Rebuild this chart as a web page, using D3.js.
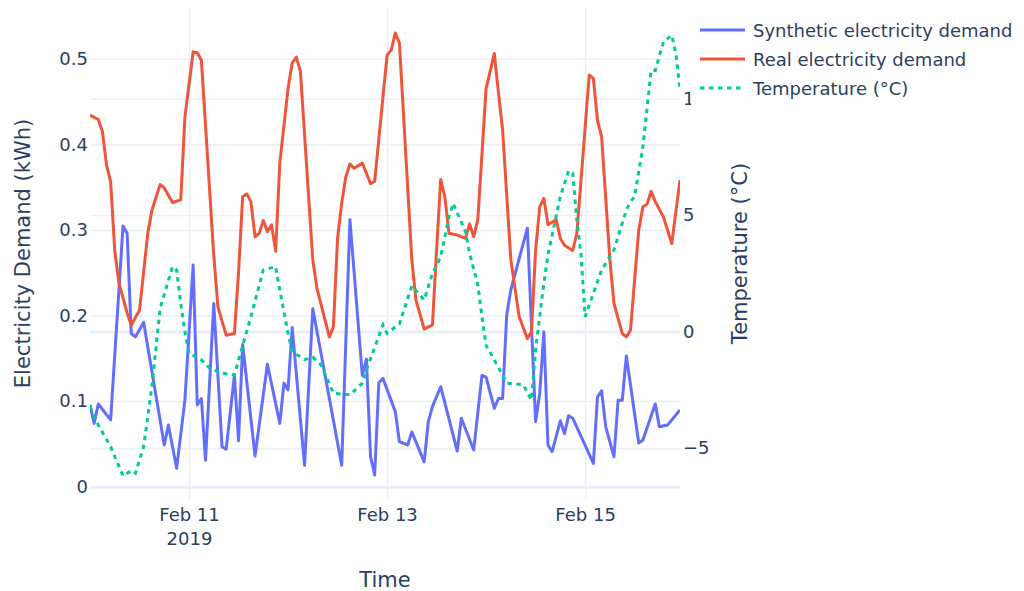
<!DOCTYPE html>
<html>
<head>
<meta charset="utf-8">
<script src="https://cdn.jsdelivr.net/npm/d3@7"></script>
<style>
  body { margin: 0; background: #fff; }
  svg { display: block; font-family: "DejaVu Sans", Verdana, sans-serif; }
</style>
</head>
<body>
<div id="chart"></div>
<script>
// hours counted from 10 Feb 2019 00:00
const startTime = Date.UTC(2019, 1, 10, 0, 0);
const endHour = 143;

const syntheticHours = [0, 1, 2, 5, 8, 9, 10, 11, 13, 18, 19, 21, 23, 25, 26, 27, 28, 30, 32, 33, 35, 36, 37, 40, 43, 46, 47, 48, 49, 52, 54, 61, 63, 66, 67, 68, 69, 70, 71, 74, 75, 77, 78, 81, 82, 83, 85, 89, 90, 93, 95, 96, 98, 99, 100, 101, 102, 106, 108, 109, 110, 111, 112, 114, 115, 116, 117, 122, 123, 124, 125, 127, 128, 129, 130, 133, 134, 137, 138, 140, 143];
const syntheticValues = [0.0955, 0.074, 0.0966, 0.078, 0.3045, 0.296, 0.179, 0.175, 0.192, 0.0487, 0.072, 0.0215, 0.101, 0.259, 0.0955, 0.103, 0.031, 0.214, 0.0467, 0.0437, 0.130, 0.0537, 0.166, 0.0359, 0.143, 0.074, 0.121, 0.113, 0.186, 0.025, 0.208, 0.025, 0.312, 0.130, 0.149, 0.035, 0.0137, 0.1215, 0.1266, 0.0876, 0.0526, 0.0487, 0.064, 0.029, 0.076, 0.0935, 0.117, 0.0417, 0.080, 0.0429, 0.130, 0.128, 0.0916, 0.103, 0.103, 0.2006, 0.23, 0.302, 0.076, 0.109, 0.181, 0.0487, 0.041, 0.077, 0.062, 0.083, 0.080, 0.0273, 0.105, 0.112, 0.070, 0.035, 0.101, 0.101, 0.1527, 0.051, 0.0546, 0.0966, 0.070, 0.072, 0.0896];

const realHours = [0, 2, 3, 4, 5, 6, 7, 9, 10, 12, 14, 15, 17, 18, 20, 22, 23, 25, 26, 27, 30, 31, 33, 35, 36, 37, 38, 39, 40, 41, 42, 43, 44, 45, 46, 48, 49, 50, 51, 54, 55, 58, 59, 60, 61, 62, 63, 64, 66, 68, 69, 72, 73, 74, 75, 78, 79, 81, 83, 84, 85, 86, 87, 89, 91, 92, 93, 94, 96, 98, 99, 100, 102, 104, 106, 107, 108, 109, 110, 111, 113, 114, 115, 117, 118, 121, 122, 123, 124, 126, 127, 129, 130, 131, 133, 134, 135, 136, 137, 139, 141, 143];
const realValues = [0.434, 0.429, 0.415, 0.376, 0.356, 0.276, 0.238, 0.203, 0.189, 0.206, 0.296, 0.323, 0.353, 0.349, 0.332, 0.335, 0.432, 0.508, 0.507, 0.498, 0.270, 0.210, 0.177, 0.179, 0.250, 0.339, 0.342, 0.333, 0.292, 0.296, 0.311, 0.298, 0.306, 0.275, 0.378, 0.465, 0.495, 0.502, 0.485, 0.265, 0.232, 0.175, 0.187, 0.290, 0.331, 0.362, 0.377, 0.372, 0.378, 0.354, 0.357, 0.504, 0.510, 0.530, 0.518, 0.265, 0.218, 0.184, 0.189, 0.276, 0.359, 0.339, 0.296, 0.294, 0.290, 0.307, 0.292, 0.312, 0.465, 0.506, 0.460, 0.417, 0.265, 0.199, 0.173, 0.181, 0.276, 0.327, 0.337, 0.306, 0.312, 0.290, 0.282, 0.276, 0.296, 0.481, 0.477, 0.428, 0.409, 0.265, 0.214, 0.179, 0.175, 0.183, 0.300, 0.327, 0.330, 0.345, 0.333, 0.315, 0.284, 0.358];

const tempHours = [0, 2, 5, 8, 10, 11, 13, 15, 17, 20, 21, 22, 23, 24, 27, 29, 32, 35, 37, 39, 42, 45, 46, 48, 49, 52, 54, 56, 59, 63, 66, 67, 71, 72, 75, 78, 81, 83, 85, 87, 88, 91, 92, 94, 95, 96, 97, 100, 101, 105, 107, 108, 110, 111, 114, 116, 117, 118, 119, 120, 122, 124, 126, 127, 130, 131, 132, 134, 136, 137, 139, 141, 142, 143];
const tempValues = [-3.21, -4.0, -4.93, -6.19, -5.96, -6.07, -4.93, -2.36, 1.0, 2.79, 2.64, 1.2, 0.0, -0.93, -1.21, -1.57, -1.78, -1.86, -0.6, 0.64, 2.64, 2.79, 1.79, -0.07, -0.86, -1.2, -1.1, -1.43, -2.64, -2.71, -2.21, -1.64, 0.29, -0.07, 0.33, 1.96, 1.36, 2.5, 3.2, 4.93, 5.5, 4.29, 3.36, 2.0, 0.64, -0.6, -0.9, -1.86, -2.21, -2.28, -2.93, -0.78, 2.07, 3.3, 5.8, 6.9, 6.79, 4.79, 3.3, 0.64, 1.64, 2.64, 3.21, 3.5, 5.22, 5.57, 5.79, 7.93, 11.2, 11.2, 12.43, 12.71, 11.93, 10.36];

const demandTicks = [0, 0.1, 0.2, 0.3, 0.4, 0.5];
const tempTicks = [-5, 0, 5, 10];
const dateTicks = [Date.UTC(2019, 1, 11), Date.UTC(2019, 1, 13), Date.UTC(2019, 1, 15)];

const seriesNames = ["Synthetic electricity demand", "Real electricity demand", "Temperature (°C)"];
const seriesColors = ["#636efa", "#EF553B", "#00cc96"];

const W = 1024, H = 591;
const margin = {left: 90, top: 7, right: 344, bottom: 91};
const width = W - margin.left - margin.right;
const height = H - margin.top - margin.bottom;
const textColor = "#2a3f5f";
const gridColor = "#ebf0f8";

const toDate = h => new Date(startTime + h * 3600 * 1000);
const zip = (hs, vs) => hs.map((h, i) => [toDate(h), vs[i]]);

const synthetic = zip(syntheticHours, syntheticValues);
const real = zip(realHours, realValues);
const temp = zip(tempHours, tempValues);

const svg = d3.select("#chart").append("svg")
  .attr("width", W)
  .attr("height", H);

svg.append("rect").attr("width", W).attr("height", H).attr("fill", "#fff");

const g = svg.append("g")
  .attr("transform", "translate(" + margin.left + "," + margin.top + ")");

const x = d3.scaleUtc().domain([toDate(0), toDate(endHour)]).range([0, width]);
const y = d3.scaleLinear().domain([-0.01554, 0.5604]).range([height, 0]);
const y2 = d3.scaleLinear().domain([-7.22, 13.92]).range([height, 0]);

function styleAxis(sel, zeroValue) {
  sel.select(".domain").remove();
  sel.selectAll(".tick line")
    .attr("stroke", gridColor)
    .attr("stroke-width", d => d === zeroValue ? 3 : 1.5);
  sel.selectAll(".tick text")
    .attr("fill", textColor)
    .style("font-size", "18px")
    .style("font-family", "DejaVu Sans, Verdana, sans-serif");
}

// x grid + labels
const xAxis = g.append("g")
  .attr("transform", "translate(0," + height + ")")
  .call(d3.axisBottom(x).tickValues(dateTicks.map(d => new Date(d)))
    .tickSize(-height).tickPadding(8)
    .tickFormat(d3.utcFormat("%b %d")));
styleAxis(xAxis, null);
xAxis.selectAll(".tick text").each(function(d, i) {
  const t = d3.select(this);
  t.text(null);
  t.append("tspan").attr("x", 0).text(d3.utcFormat("%b %d")(d));
  if (i === 0) {
    t.append("tspan").attr("x", 0).attr("dy", "24px").text(d3.utcFormat("%Y")(d));
  }
});

// left grid + labels
const yAxis = g.append("g")
  .call(d3.axisLeft(y).tickValues(demandTicks).tickSize(-width).tickPadding(2)
    .tickFormat(d => d === 0 ? "0" : d3.format(".1f")(d)));
styleAxis(yAxis, 0);

// right grid + labels
const y2Axis = g.append("g")
  .attr("transform", "translate(" + width + ",0)")
  .call(d3.axisRight(y2).tickValues(tempTicks).tickSize(-width).tickPadding(3));
styleAxis(y2Axis, 0);

// clip
svg.append("clipPath").attr("id", "plotclip")
  .append("rect").attr("width", width).attr("height", height);

const plot = g.append("g").attr("clip-path", "url(#plotclip)");

const line = d3.line().x(d => x(d[0])).y(d => y(d[1]));
const line2 = d3.line().x(d => x(d[0])).y(d => y2(d[1]));

plot.append("path").datum(synthetic)
  .attr("fill", "none").attr("stroke", seriesColors[0])
  .attr("stroke-width", 3).attr("stroke-linejoin", "round")
  .attr("d", line);

plot.append("path").datum(real)
  .attr("fill", "none").attr("stroke", seriesColors[1])
  .attr("stroke-width", 3).attr("stroke-linejoin", "round")
  .attr("d", line);

plot.append("path").datum(temp)
  .attr("fill", "none").attr("stroke", seriesColors[2])
  .attr("stroke-width", 3).attr("stroke-dasharray", "4.5,4.5")
  .attr("d", line2);

// axis titles
svg.append("text")
  .attr("transform", "translate(23," + (margin.top + height / 2) + ") rotate(-90)")
  .attr("text-anchor", "middle").attr("dominant-baseline", "central")
  .attr("fill", textColor).style("font-size", "21px")
  .text("Electricity Demand (kWh)");

svg.append("text")
  .attr("transform", "translate(740," + (margin.top + height / 2) + ") rotate(-90)")
  .attr("text-anchor", "middle").attr("dominant-baseline", "central")
  .attr("fill", textColor).style("font-size", "21px")
  .text("Temperature (°C)");

svg.append("text")
  .attr("x", margin.left + width / 2).attr("y", 587)
  .attr("text-anchor", "middle")
  .attr("fill", textColor).style("font-size", "21px")
  .text("Time");

// legend
const legend = svg.append("g").attr("transform", "translate(691,10)");
legend.append("rect").attr("width", 333).attr("height", 100).attr("fill", "#fff");
seriesNames.forEach((name, i) => {
  const row = legend.append("g").attr("transform", "translate(0," + (20 + i * 29) + ")");
  row.append("line")
    .attr("x1", 9).attr("x2", 54).attr("y1", 0).attr("y2", 0)
    .attr("stroke", seriesColors[i]).attr("stroke-width", 3)
    .attr("stroke-dasharray", i === 2 ? "4.5,4.5" : null);
  row.append("text")
    .attr("x", 62).attr("y", 0).attr("dominant-baseline", "central")
    .attr("fill", textColor).style("font-size", "18px")
    .text(name);
});
</script>
</body>
</html>
